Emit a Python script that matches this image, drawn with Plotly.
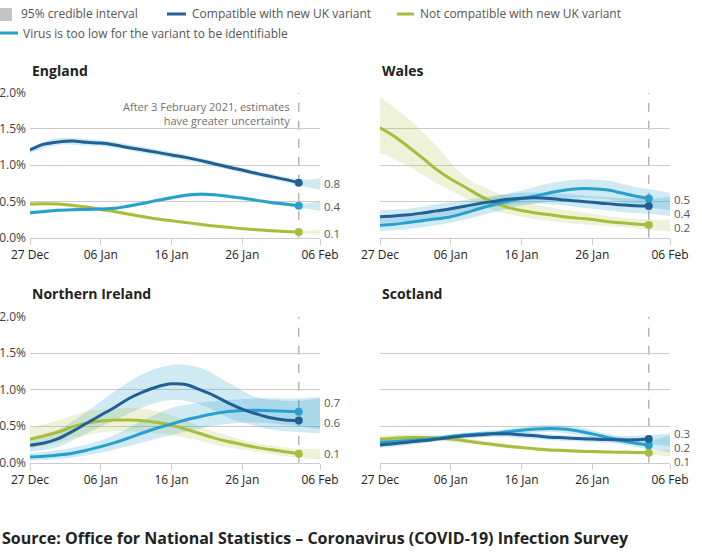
import pandas as pd
import plotly.graph_objects as go

# ---------------- data ----------------
start = pd.Timestamp("2020-12-27")
line_days = list(range(0, 39, 2))              # 27 Dec .. 3 Feb
band_days = [0, 4, 8, 12, 16, 20, 24, 28, 32, 36, 38, 41]  # to 6 Feb

tick_days = [0, 10, 20, 30, 41]
tick_labels = ["27 Dec", "06 Jan", "16 Jan", "26 Jan", "06 Feb"]
y_ticks = [0, 0.5, 1.0, 1.5, 2.0]
y_tick_labels = ["0.0%", "0.5%", "1.0%", "1.5%", "2.0%"]

series_names = ["Compatible with new UK variant",
                "Not compatible with new UK variant",
                "Virus is too low for the variant to be identifiable"]

# England
eng_comp = [1.21, 1.29, 1.32, 1.333, 1.315, 1.305, 1.28, 1.24, 1.21, 1.177,
            1.14, 1.108, 1.067, 1.02, 0.975, 0.933, 0.887, 0.846, 0.805, 0.759]
eng_comp_hi = [1.25, 1.37, 1.36, 1.32, 1.25, 1.18, 1.10, 1.01, 0.92, 0.84, 0.80, 0.82]
eng_comp_lo = [1.17, 1.28, 1.27, 1.24, 1.17, 1.10, 1.03, 0.94, 0.85, 0.77, 0.72, 0.66]
eng_notc = [0.464, 0.469, 0.464, 0.446, 0.423, 0.39, 0.359, 0.322, 0.29, 0.257,
            0.234, 0.211, 0.184, 0.161, 0.143, 0.124, 0.11, 0.097, 0.087, 0.078]
eng_notc_hi = [0.485, 0.485, 0.443, 0.378, 0.308, 0.252, 0.2, 0.158, 0.124, 0.10, 0.095, 0.11]
eng_notc_lo = [0.443, 0.443, 0.403, 0.34, 0.272, 0.216, 0.168, 0.128, 0.096, 0.074, 0.064, 0.04]
eng_low = [0.345, 0.36, 0.377, 0.385, 0.39, 0.395, 0.405, 0.437, 0.474, 0.515,
           0.552, 0.584, 0.598, 0.593, 0.57, 0.547, 0.515, 0.487, 0.464, 0.441]
eng_low_hi = [0.37, 0.40, 0.415, 0.43, 0.50, 0.58, 0.625, 0.595, 0.54, 0.49, 0.47, 0.50]
eng_low_lo = [0.32, 0.355, 0.365, 0.38, 0.45, 0.525, 0.57, 0.545, 0.49, 0.44, 0.415, 0.37]

# Wales
wal_comp = [0.29, 0.30, 0.315, 0.34, 0.37, 0.40, 0.435, 0.47, 0.50, 0.53,
            0.545, 0.55, 0.54, 0.52, 0.505, 0.49, 0.47, 0.455, 0.44, 0.436]
wal_comp_hi = [0.38, 0.40, 0.46, 0.52, 0.58, 0.62, 0.62, 0.59, 0.56, 0.54, 0.54, 0.56]
wal_comp_lo = [0.20, 0.23, 0.28, 0.35, 0.42, 0.47, 0.46, 0.42, 0.38, 0.34, 0.33, 0.30]
wal_notc = [1.517, 1.40, 1.255, 1.10, 0.94, 0.81, 0.70, 0.584, 0.49, 0.42,
            0.375, 0.34, 0.315, 0.29, 0.27, 0.25, 0.225, 0.205, 0.19, 0.174]
wal_notc_hi = [1.945, 1.64, 1.26, 0.84, 0.64, 0.50, 0.42, 0.36, 0.30, 0.26, 0.25, 0.25]
wal_notc_lo = [1.17, 0.99, 0.75, 0.55, 0.38, 0.29, 0.23, 0.19, 0.16, 0.13, 0.11, 0.09]
wal_low = [0.17, 0.185, 0.21, 0.235, 0.26, 0.29, 0.34, 0.40, 0.455, 0.50,
           0.54, 0.575, 0.62, 0.655, 0.675, 0.675, 0.66, 0.62, 0.575, 0.54]
wal_low_hi = [0.26, 0.30, 0.35, 0.44, 0.56, 0.65, 0.75, 0.80, 0.79, 0.70, 0.67, 0.62]
wal_low_lo = [0.09, 0.12, 0.17, 0.25, 0.35, 0.44, 0.50, 0.55, 0.53, 0.45, 0.42, 0.38]

# Northern Ireland
nir_comp = [0.24, 0.27, 0.33, 0.43, 0.54, 0.65, 0.76, 0.88, 0.97, 1.04,
            1.08, 1.07, 1.0, 0.92, 0.82, 0.735, 0.67, 0.615, 0.585, 0.578]
nir_comp_hi = [0.33, 0.45, 0.70, 0.98, 1.22, 1.34, 1.30, 1.10, 0.90, 0.85, 0.85, 0.88]
nir_comp_lo = [0.15, 0.22, 0.40, 0.58, 0.76, 0.86, 0.80, 0.62, 0.50, 0.43, 0.42, 0.40]
nir_notc = [0.32, 0.37, 0.42, 0.49, 0.54, 0.57, 0.585, 0.585, 0.575, 0.55,
            0.515, 0.46, 0.40, 0.34, 0.29, 0.25, 0.21, 0.18, 0.15, 0.124]
nir_notc_hi = [0.48, 0.58, 0.70, 0.74, 0.74, 0.65, 0.50, 0.37, 0.27, 0.21, 0.19, 0.19]
nir_notc_lo = [0.19, 0.28, 0.38, 0.43, 0.42, 0.38, 0.30, 0.21, 0.15, 0.09, 0.07, 0.04]
nir_low = [0.078, 0.088, 0.105, 0.13, 0.17, 0.22, 0.275, 0.34, 0.41, 0.475,
           0.53, 0.585, 0.63, 0.67, 0.70, 0.715, 0.718, 0.712, 0.705, 0.697]
nir_low_hi = [0.13, 0.17, 0.25, 0.38, 0.58, 0.75, 0.82, 0.86, 0.88, 0.88, 0.88, 0.90]
nir_low_lo = [0.03, 0.05, 0.10, 0.18, 0.28, 0.38, 0.47, 0.53, 0.55, 0.52, 0.50, 0.46]

# Scotland
sco_comp = [0.244, 0.26, 0.281, 0.30, 0.323, 0.346, 0.369, 0.382, 0.396, 0.396,
            0.382, 0.369, 0.35, 0.341, 0.332, 0.323, 0.318, 0.313, 0.313, 0.323]
sco_comp_hi = [0.29, 0.32, 0.36, 0.40, 0.43, 0.42, 0.39, 0.37, 0.36, 0.37, 0.38, 0.40]
sco_comp_lo = [0.20, 0.24, 0.29, 0.33, 0.36, 0.34, 0.31, 0.29, 0.27, 0.26, 0.26, 0.22]
sco_notc = [0.323, 0.336, 0.346, 0.346, 0.341, 0.323, 0.30, 0.272, 0.25, 0.226,
            0.207, 0.189, 0.175, 0.166, 0.157, 0.152, 0.147, 0.143, 0.14, 0.136]
sco_notc_hi = [0.37, 0.39, 0.38, 0.33, 0.28, 0.235, 0.20, 0.18, 0.17, 0.165, 0.165, 0.18]
sco_notc_lo = [0.28, 0.30, 0.30, 0.27, 0.22, 0.18, 0.15, 0.135, 0.125, 0.115, 0.11, 0.09]
sco_low = [0.281, 0.29, 0.304, 0.318, 0.332, 0.359, 0.378, 0.392, 0.401, 0.424,
           0.445, 0.46, 0.468, 0.462, 0.435, 0.395, 0.35, 0.305, 0.27, 0.24]
sco_low_hi = [0.32, 0.34, 0.37, 0.41, 0.44, 0.49, 0.52, 0.49, 0.40, 0.32, 0.30, 0.38]
sco_low_lo = [0.24, 0.27, 0.30, 0.34, 0.36, 0.40, 0.42, 0.38, 0.30, 0.22, 0.19, 0.14]

# ---------------- styling ----------------
W, H = 702, 556
FONT = "Open Sans"
DARK = "#206095"
SKY = "#27a0cc"
GREEN = "#a8bd3a"
BAND_BLUE = "rgba(39,160,204,0.22)"
BAND_GREEN = "rgba(168,189,58,0.2)"
GRID = "#cccccc"
TXT = "#414042"


def px(x):
    return x / W


def py(y):
    return 1 - y / H


def to_dates(days):
    return [start + pd.Timedelta(days=d) for d in days]


panels = [
    dict(name="England", x0=30, x1=320, y0=92.7, y1=237.7, left=True,
         series=[(eng_comp, eng_comp_lo, eng_comp_hi, DARK, BAND_BLUE),
                 (eng_notc, eng_notc_lo, eng_notc_hi, GREEN, BAND_GREEN),
                 (eng_low, eng_low_lo, eng_low_hi, SKY, BAND_BLUE)],
         label_y=[0.75, 0.06, 0.43]),
    dict(name="Wales", x0=380, x1=670, y0=92.7, y1=237.7, left=False,
         series=[(wal_comp, wal_comp_lo, wal_comp_hi, DARK, BAND_BLUE),
                 (wal_notc, wal_notc_lo, wal_notc_hi, GREEN, BAND_GREEN),
                 (wal_low, wal_low_lo, wal_low_hi, SKY, BAND_BLUE)],
         label_y=[0.34, 0.145, 0.53]),
    dict(name="Northern Ireland", x0=30, x1=320, y0=316.7, y1=462.7, left=True,
         series=[(nir_comp, nir_comp_lo, nir_comp_hi, DARK, BAND_BLUE),
                 (nir_notc, nir_notc_lo, nir_notc_hi, GREEN, BAND_GREEN),
                 (nir_low, nir_low_lo, nir_low_hi, SKY, BAND_BLUE)],
         label_y=[0.55, 0.125, 0.82]),
    dict(name="Scotland", x0=380, x1=670, y0=316.7, y1=462.7, left=False,
         series=[(sco_comp, sco_comp_lo, sco_comp_hi, DARK, BAND_BLUE),
                 (sco_notc, sco_notc_lo, sco_notc_hi, GREEN, BAND_GREEN),
                 (sco_low, sco_low_lo, sco_low_hi, SKY, BAND_BLUE)],
         label_y=[0.405, 0.018, 0.212]),
]

fig = go.Figure()
shapes = []
annotations = []
line_x = to_dates(line_days)
band_x = to_dates(band_days)
end_date = start + pd.Timedelta(days=38)
last_date = start + pd.Timedelta(days=41)

for i, p in enumerate(panels):
    k = "" if i == 0 else str(i + 1)
    xa, ya = "x" + k, "y" + k
    # bands first
    for vals, lo, hi, col, band in p["series"]:
        fig.add_trace(go.Scatter(x=band_x, y=lo, mode="lines", line=dict(width=0, shape="spline"),
                                 hoverinfo="skip", showlegend=False, xaxis=xa, yaxis=ya))
        fig.add_trace(go.Scatter(x=band_x, y=hi, mode="lines", line=dict(width=0, shape="spline"),
                                 fill="tonexty", fillcolor=band, hoverinfo="skip",
                                 showlegend=False, xaxis=xa, yaxis=ya))
    # lines
    for vals, lo, hi, col, band in [p["series"][1], p["series"][2], p["series"][0]]:
        fig.add_trace(go.Scatter(x=line_x, y=vals, mode="lines",
                                 line=dict(color=col, width=3, shape="spline"),
                                 showlegend=False, xaxis=xa, yaxis=ya))
        fig.add_trace(go.Scatter(x=[line_x[-1]], y=[vals[-1]], mode="markers",
                                 marker=dict(color=col, size=8),
                                 showlegend=False, xaxis=xa, yaxis=ya, cliponaxis=False))
    # end labels
    for (vals, lo, hi, col, band), ly in zip(p["series"], p["label_y"]):
        annotations.append(dict(x=last_date, y=ly, xref=xa, yref=ya, text=f"{vals[-1]:.1f}",
                                showarrow=False, xanchor="left", yanchor="middle", xshift=3,
                                height=11, borderpad=0,
                                font=dict(family=FONT, size=11.5, color="#555555")))
    # dashed line
    shapes.append(dict(type="line", xref=xa, yref=ya, x0=end_date, x1=end_date, y0=0, y1=2.0,
                       line=dict(color="#aaaaaa", width=1.3, dash="dash"), layer="below"))
    # title
    annotations.append(dict(x=px(p["x0"]), y=py(70 if i < 2 else 293.5), xref="paper", yref="paper",
                            text=f"<b>{p['name']}</b>", showarrow=False, xanchor="left",
                            yanchor="middle", font=dict(family=FONT, size=14, color="#222222")))
    xdom = [px(p["x0"]), px(p["x1"])]
    ydom = [py(p["y1"]), py(p["y0"])]
    fig.update_layout(**{
        ("xaxis" + k): dict(domain=xdom, anchor=ya, type="date", automargin=False,
                            range=[start, last_date], tickvals=to_dates(tick_days),
                            ticktext=tick_labels, showgrid=False, zeroline=False,
                            showline=True, linecolor=GRID, linewidth=1,
                            ticks="outside", ticklen=6, tickcolor=GRID,
                            tickfont=dict(family=FONT, size=12, color="#222222")),
        ("yaxis" + k): dict(domain=ydom, anchor=xa, range=[0, 2.0], tickvals=y_ticks,
                            automargin=False,
                            ticktext=y_tick_labels, showticklabels=p["left"],
                            showgrid=True, gridcolor=GRID, gridwidth=1, zeroline=False,
                            showline=False, ticks="", ticklabelstandoff=3,
                            tickfont=dict(family=FONT, size=12, color=TXT)),
    })

# England note
annotations.append(dict(x=px(292), y=py(113), xref="paper", yref="paper",
                        text="After 3 February 2021, estimates<br>have greater uncertainty",
                        showarrow=False, xanchor="right", yanchor="middle", align="right",
                        font=dict(family=FONT, size=11, color="#707070")))

# legend (manual)
shapes.append(dict(type="rect", xref="paper", yref="paper", x0=px(0), x1=px(12),
                   y0=py(21), y1=py(8), fillcolor="#c4c4c4", line=dict(width=0)))
leg_items = [
    (19, 14, "95% credible interval"),
    (190, 14, series_names[0]),
    (418, 14, series_names[1]),
    (21, 34, series_names[2]),
]
for x, y, t in leg_items:
    annotations.append(dict(x=px(x), y=py(y), xref="paper", yref="paper", text=t,
                            showarrow=False, xanchor="left", yanchor="middle",
                            font=dict(family=FONT, size=12, color="#555555")))
for x0, x1, y, col in [(167, 186, 14, DARK), (397, 414, 14, GREEN), (0, 18, 33, SKY)]:
    shapes.append(dict(type="line", xref="paper", yref="paper", x0=px(x0), x1=px(x1),
                       y0=py(y), y1=py(y), line=dict(color=col, width=3)))

annotations.append(dict(x=0, y=py(538), xref="paper", yref="paper",
                        text="<b>Source: Office for National Statistics – Coronavirus (COVID-19) Infection Survey</b>",
                        showarrow=False, xanchor="left", yanchor="middle",
                        font=dict(family=FONT, size=16, color="#222222")))

fig.update_layout(width=W, height=H, margin=dict(l=0, r=0, t=0, b=0, autoexpand=False),
                  paper_bgcolor="white", plot_bgcolor="white", showlegend=False,
                  shapes=shapes, annotations=annotations,
                  font=dict(family=FONT))

fig.write_html("out.html")
